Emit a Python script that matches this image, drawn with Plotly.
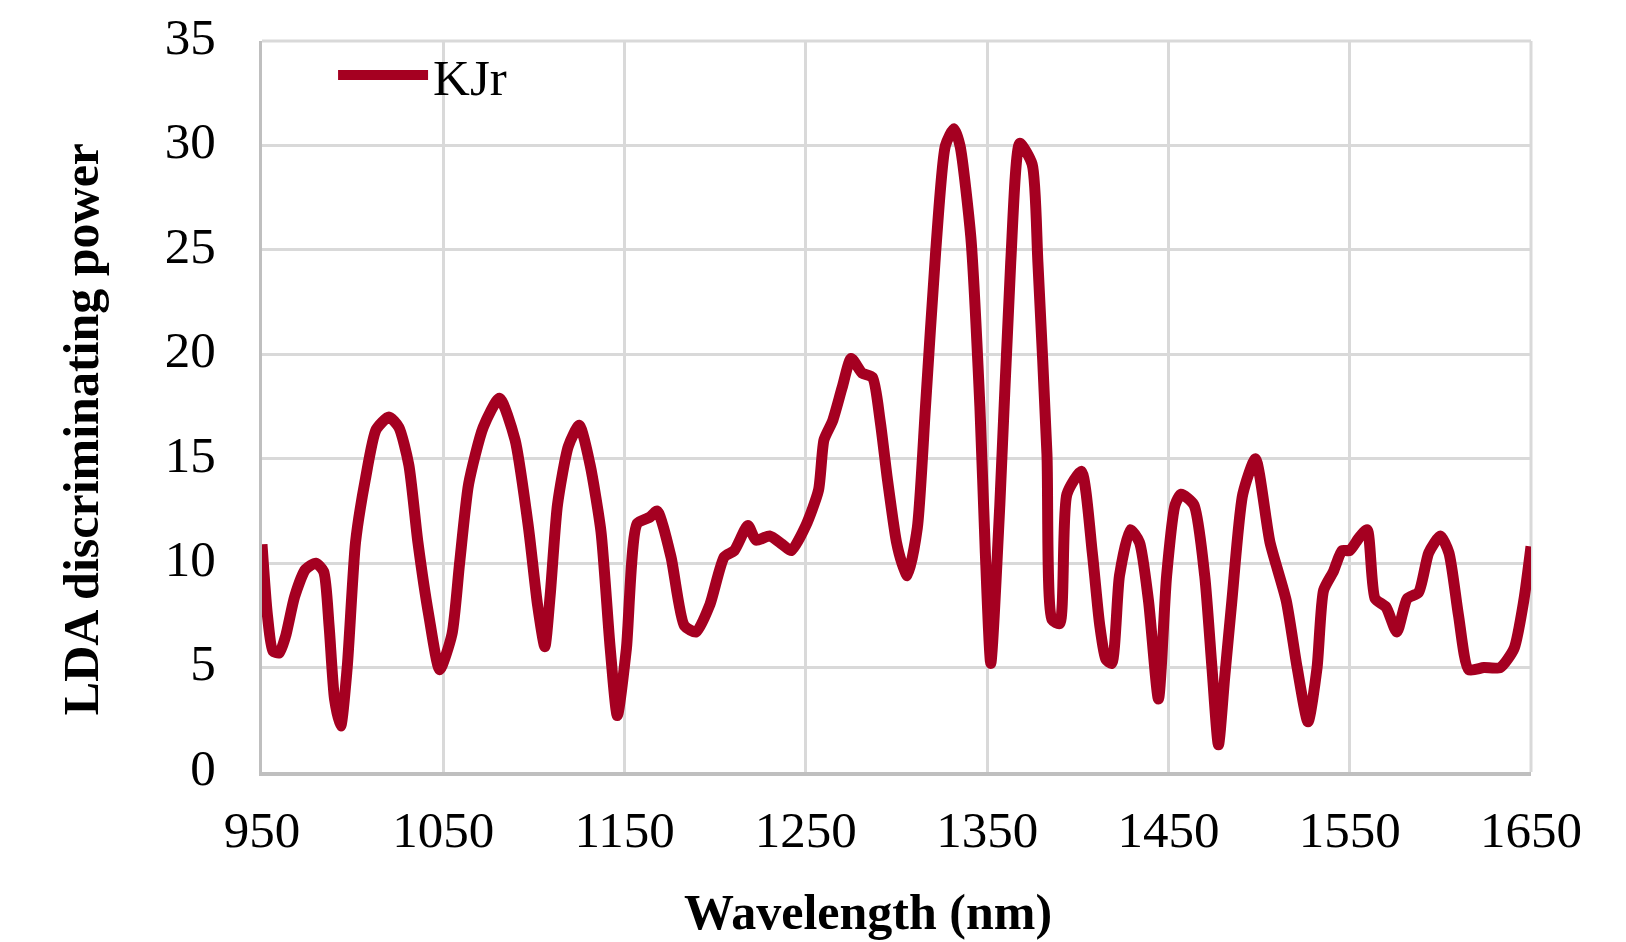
import plotly.graph_objects as go

# Wavelength (nm) and LDA discriminating power for the KJr spectrum
wavelength = [
    950, 953, 956, 959.5, 963, 968, 974, 979.7, 984, 987, 990, 993.4, 997, 1001.6, 1007,
    1013, 1020, 1025.5, 1031, 1036, 1042, 1048, 1054.8, 1059, 1064, 1072, 1081, 1089.6,
    1097, 1102, 1106, 1109, 1113, 1119, 1125, 1131, 1137, 1142, 1146, 1151, 1157, 1164,
    1168, 1175.6, 1183, 1189.5, 1197, 1205, 1210.5, 1218, 1222.5, 1230, 1237, 1242, 1250,
    1257, 1260, 1264.7, 1270, 1275, 1281, 1286.7, 1291, 1295, 1300, 1303, 1306, 1311.5,
    1316, 1321.6, 1327, 1331.7, 1335, 1341, 1346, 1349, 1352, 1357, 1363, 1368, 1374.8,
    1378, 1383, 1385.8, 1390, 1394, 1402, 1408, 1412, 1415.5, 1418.7, 1423, 1429, 1434,
    1439, 1444.5, 1449, 1453.7, 1457, 1464, 1470, 1474, 1477.6, 1481, 1485, 1491, 1498,
    1506, 1515, 1521, 1527, 1532, 1535.6, 1541, 1545.8, 1550, 1555, 1559.6, 1564, 1570,
    1576, 1581.7, 1588, 1593.6, 1600, 1604.7, 1610, 1615.7, 1624, 1633, 1640.6, 1646, 1650,
]
lda_power = [
    10.9, 7.5, 5.8, 5.7, 6.5, 8.4, 9.7, 10.0, 9.6, 7.0, 3.5, 2.2, 5.0, 11.0, 14.0,
    16.4, 17.0, 16.5, 14.7, 11.0, 7.5, 4.9, 6.6, 10.0, 13.8, 16.5, 17.9, 15.9,
    11.7, 8.0, 6.0, 8.5, 12.8, 15.6, 16.6, 14.7, 11.5, 6.0, 2.7, 5.9, 11.9, 12.2,
    12.5, 10.3, 7.0, 6.7, 8.0, 10.3, 10.6, 11.8, 11.1, 11.3, 10.9, 10.6, 11.8,
    13.5, 15.9, 16.8, 18.4, 19.8, 19.1, 18.9, 16.8, 14.0, 11.0, 10.0, 9.4, 11.7,
    17.5, 24.9, 30.0, 30.8, 30.0, 25.6, 17.5, 10.5, 5.2, 12.8, 24.4, 30.1, 29.1,
    24.4, 15.2, 7.3, 7.1, 13.3, 14.4, 10.5, 7.1, 5.4, 5.2, 9.4, 11.6, 11.0,
    8.2, 3.5, 9.4, 12.8, 13.3, 12.8, 9.4, 5.0, 1.3, 4.5, 8.2, 13.3, 15.0,
    11.0, 8.2, 5.0, 2.4, 5.0, 8.7, 9.6, 10.6, 10.6, 11.2, 11.6, 8.3, 7.9,
    6.7, 8.3, 8.6, 10.5, 11.3, 10.5, 7.5, 4.9, 5.0, 5.0, 5.9, 8.2, 10.8,
]

x_ticks = [950, 1050, 1150, 1250, 1350, 1450, 1550, 1650]
y_ticks = [0, 5, 10, 15, 20, 25, 30, 35]

LINE_COLOR = "#A50021"
GRID_COLOR = "#D9D9D9"
FONT = "Liberation Serif, Times New Roman, serif"

fig = go.Figure()
fig.add_trace(go.Scatter(
    x=wavelength, y=lda_power, mode="lines", name="KJr",
    line=dict(color=LINE_COLOR, width=11, shape="spline", smoothing=0.6),
))

fig.update_layout(
    width=1626, height=942,
    margin=dict(l=262, r=95, t=41, b=170, autoexpand=False),
    paper_bgcolor="white", plot_bgcolor="white",
    font=dict(family=FONT, size=51, color="black"),
    showlegend=True,
    legend=dict(
        x=0.056, y=0.953, xanchor="left", yanchor="middle",
        bgcolor="rgba(0,0,0,0)", font=dict(size=51, family=FONT),
        itemwidth=90, tracegroupgap=0,
    ),
    xaxis=dict(
        range=[950, 1650], tickmode="array", tickvals=x_ticks,
        ticktext=[str(v) for v in x_ticks],
        showgrid=True, gridcolor=GRID_COLOR, gridwidth=3,
        showline=True, linecolor="#BFBFBF", linewidth=4,
        zeroline=False, ticks="", ticklabelstandoff=10, automargin=False,
        tickfont=dict(size=51, family=FONT),
    ),
    yaxis=dict(
        range=[0, 35], tickmode="array", tickvals=y_ticks,
        ticktext=[str(v) for v in y_ticks],
        showgrid=True, gridcolor=GRID_COLOR, gridwidth=3,
        showline=True, linecolor="#BFBFBF", linewidth=3,
        zeroline=False, ticks="", ticklabelstandoff=33, ticklabelshift=-5,
        automargin=False,
        tickfont=dict(size=51, family=FONT),
    ),
)

# axis titles
fig.add_annotation(text="<b>Wavelength (nm)</b>", xref="paper", yref="paper",
                   x=0.4775, y=-0.1915, xanchor="center", yanchor="middle",
                   showarrow=False, font=dict(size=50, family=FONT))
fig.add_annotation(text="<b>LDA discriminating power</b>", xref="paper", yref="paper",
                   x=-0.1426, y=0.469, xanchor="center", yanchor="middle", textangle=-90,
                   showarrow=False, font=dict(size=50, family=FONT))

# right and top edges of the grid frame
fig.add_shape(type="line", xref="paper", yref="paper", x0=1, x1=1, y0=0, y1=1,
              line=dict(color=GRID_COLOR, width=3), layer="below")
fig.add_shape(type="line", xref="paper", yref="paper", x0=0, x1=1, y0=1, y1=1,
              line=dict(color=GRID_COLOR, width=3), layer="below")

fig.write_html("out.html")
